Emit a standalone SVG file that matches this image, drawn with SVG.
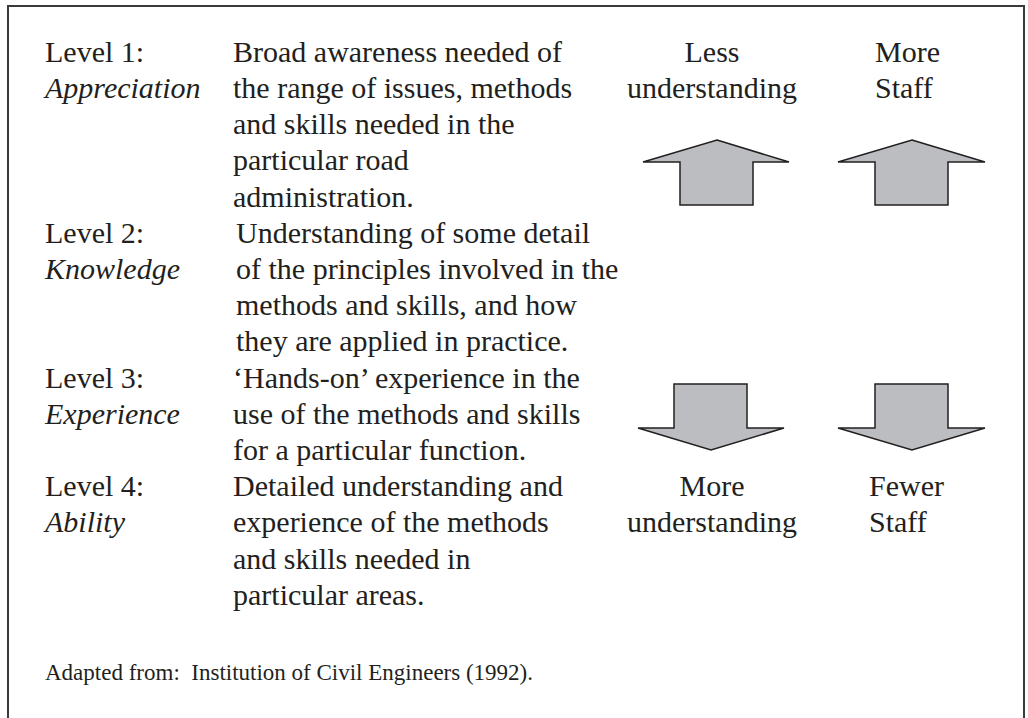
<svg xmlns="http://www.w3.org/2000/svg" width="1028" height="718" viewBox="0 0 1028 718">
<style>
text{font-family:"Liberation Serif","Times New Roman",Times,serif;font-size:30px;fill:#231f20}
.i{font-style:italic}
.m{text-anchor:middle}
.s{font-size:23px;white-space:pre}
.arr{fill:#bcbdc0;stroke:#231f20;stroke-width:1.5;stroke-linejoin:miter}
</style>
<rect width="1028" height="718" fill="#fff"/>
<path d="M8,730 V6 H1024 V730" fill="none" stroke="#3a3a3a" stroke-width="2"/>
<g id="level1">
<text x="45" y="62">Level 1:</text>
<text class="i" x="45" y="98">Appreciation</text>
<text x="233" y="62">Broad awareness needed of</text>
<text x="233" y="98">the range of issues, methods</text>
<text x="233" y="134">and skills needed in the</text>
<text x="233" y="170">particular road</text>
<text x="233" y="207">administration.</text>
</g>
<g id="level2">
<text x="45" y="243">Level 2:</text>
<text class="i" x="45" y="279">Knowledge</text>
<text x="236" y="243">Understanding of some detail</text>
<text x="236" y="279">of the principles involved in the</text>
<text x="236" y="315">methods and skills, and how</text>
<text x="236" y="351">they are applied in practice.</text>
</g>
<g id="level3">
<text x="45" y="388">Level 3:</text>
<text class="i" x="45" y="424">Experience</text>
<text x="233" y="388">‘Hands-on’ experience in the</text>
<text x="233" y="424">use of the methods and skills</text>
<text x="233" y="460">for a particular function.</text>
</g>
<g id="level4">
<text x="45" y="496">Level 4:</text>
<text class="i" x="45" y="532">Ability</text>
<text x="233" y="496">Detailed understanding and</text>
<text x="233" y="532">experience of the methods</text>
<text x="233" y="569">and skills needed in</text>
<text x="233" y="605">particular areas.</text>
</g>
<g id="up-understanding">
<text class="m" x="712" y="62">Less</text>
<text class="m" x="712" y="98">understanding</text>
<polygon class="arr" points="717,140 789,162 753,162 753,205 680,205 680,162 643,162"/>
</g>
<g id="up-staff">
<text x="875" y="62">More</text>
<text x="875" y="98">Staff</text>
<polygon class="arr" points="912,140 985,162 948,162 948,205 875,205 875,162 838,162"/>
</g>
<g id="down-understanding">
<polygon class="arr" points="674,384 747,384 747,428 784,428 711,450 638,428 674,428"/>
<text class="m" x="712" y="496">More</text>
<text class="m" x="712" y="532">understanding</text>
</g>
<g id="down-staff">
<polygon class="arr" points="875,384 948,384 948,428 985,428 912,450 838,428 875,428"/>
<text x="869" y="496">Fewer</text>
<text x="869" y="532">Staff</text>
</g>
<g id="connectors"></g>
<text class="s" x="45" y="680">Adapted from:  Institution of Civil Engineers (1992).</text>
</svg>
